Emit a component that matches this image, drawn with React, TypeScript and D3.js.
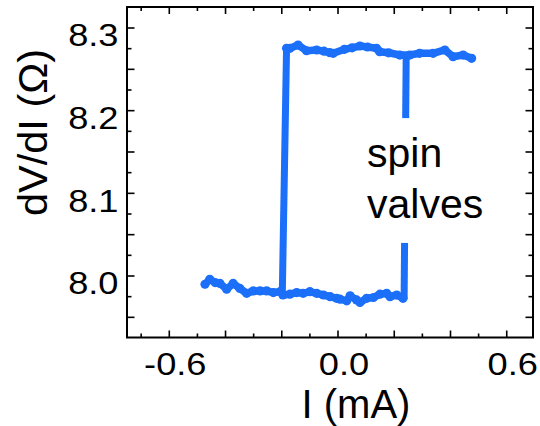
import React from "react";
import * as d3 from "d3";

// Lower branch (low-resistance state), current in mA, dV/dI in ohm
const lowerI = [-0.473, -0.456, -0.437, -0.42, -0.396, -0.373, -0.349, -0.325, -0.301, -0.277, -0.254, -0.23, -0.206, -0.196, -0.171, -0.147, -0.124, -0.1, -0.076, -0.052, -0.028, -0.005, 0.007, 0.031, 0.043, 0.066, 0.078, 0.102, 0.126, 0.149, 0.173, 0.185, 0.209, 0.231];
const lowerR = [7.99, 7.996, 7.992, 7.991, 7.984, 7.991, 7.985, 7.979, 7.982, 7.982, 7.982, 7.98, 7.981, 7.977, 7.978, 7.98, 7.979, 7.981, 7.979, 7.977, 7.975, 7.973, 7.972, 7.97, 7.976, 7.971, 7.968, 7.973, 7.974, 7.978, 7.979, 7.975, 7.977, 7.973];

// Upper branch (high-resistance state)
const upperI = [-0.183, -0.171, -0.142, -0.112, -0.076, -0.05, -0.029, -0.017, 0.023, 0.05, 0.078, 0.105, 0.137, 0.148, 0.18, 0.22, 0.255, 0.29, 0.338, 0.38, 0.409, 0.445, 0.475];
const upperR = [8.2755, 8.2754, 8.2794, 8.2725, 8.2734, 8.272, 8.2701, 8.2694, 8.2742, 8.276, 8.2782, 8.277, 8.2754, 8.2713, 8.27, 8.2673, 8.2673, 8.2694, 8.2694, 8.2734, 8.2653, 8.2673, 8.2633];

// Switching events
const switchDownI = [-0.183, -0.198];
const switchDownR = [8.2755, 7.981];
const switchUpI = [0.235, 0.2425];
const switchUpR = [7.972, 8.267];

// Axes
const xDomain = [-0.7504, 0.6934];
const yDomain = [7.9256, 8.3254];
const xTickSteps = [-7, -6, -5, -4, -3, -2, -1, 0, 1, 2, 3, 4, 5, 6]; // x0.1 mA
const xTickLabels = ["-0.6", "0.0", "0.6"];
const yTickSteps = [318, 319, 320, 321, 322, 323, 324, 325, 326, 327, 328, 329, 330, 331, 332]; // x0.025 ohm
const yTickLabels = ["8.0", "8.1", "8.2", "8.3"];

const xTitle = "I (mA)";
const yTitle = "dV/dI (Ω)";
const annotationLines = ["spin", "valves"];
const annotationI = 0.103;
const annotationBoxR = [8.191, 8.04];
const annotationBaselineR = 8.1315;

const W = 540;
const H = 426;
const left = 127;
const right = 533;
const top = 7;
const bottom = 337.5;
const BLUE = "#1b6ff8";
const FONT = "'Liberation Sans', Arial, Helvetica, sans-serif";

export default function App() {
  const x = d3.scaleLinear().domain(xDomain).range([left, right]);
  const y = d3.scaleLinear().domain(yDomain).range([bottom, top]);

  const line = d3
    .line<[number, number]>()
    .x((d) => x(d[0]))
    .y((d) => y(d[1]));

  const lower: [number, number][] = lowerI.map((v, i) => [v, lowerR[i]]);
  const upper: [number, number][] = upperI.map((v, i) => [v, upperR[i]]);
  const sDown: [number, number][] = switchDownI.map((v, i) => [v, switchDownR[i]]);
  const sUp: [number, number][] = switchUpI.map((v, i) => [v, switchUpR[i]]);

  const xTicks = xTickSteps.map((k) => ({ v: k / 10, major: k % 2 === 0, label: k % 6 === 0 }));
  const yTicks = yTickSteps.map((k) => ({ v: k * 0.025, major: k % 2 === 0, label: k % 4 === 0 }));

  const tickStroke = 1.6;

  const ax = x(annotationI);
  const lineGap = 51;

  return (
    <div style={{ position: "fixed", left: 0, top: 0 }}>
      <svg width={W} height={H} style={{ display: "block", background: "#fff" }}>
        {/* data */}
        <g fill="none" stroke={BLUE} strokeLinecap="round" strokeLinejoin="round">
          <path d={line(sDown) || ""} strokeWidth={7} strokeLinecap="butt" />
          <path d={line(sUp) || ""} strokeWidth={7} strokeLinecap="butt" />
          <path d={line(lower) || ""} strokeWidth={7.5} />
          <path d={line(upper) || ""} strokeWidth={7.5} />
        </g>
        <g fill={BLUE}>
          {lower.map((d, i) => (
            <circle key={"l" + i} cx={x(d[0])} cy={y(d[1])} r={4.6} />
          ))}
          {upper.map((d, i) => (
            <circle key={"u" + i} cx={x(d[0])} cy={y(d[1])} r={4.6} />
          ))}
        </g>

        {/* annotation */}
        <rect
          x={ax - 6}
          y={y(annotationBoxR[0])}
          width={130}
          height={y(annotationBoxR[1]) - y(annotationBoxR[0])}
          fill="#fff"
        />
        <text fontFamily={FONT} fontSize={41} fill="#000">
          {annotationLines.map((t, i) => (
            <tspan key={t} x={ax} y={y(annotationBaselineR) + i * lineGap}>
              {t}
            </tspan>
          ))}
        </text>

        {/* frame */}
        <rect x={left} y={top} width={right - left} height={bottom - top} fill="none" stroke="#000" strokeWidth={2} />

        {/* ticks (inward on all four sides) */}
        <g stroke="#000" strokeWidth={tickStroke}>
          {xTicks.map((t, i) => {
            const len = t.major ? 7 : 4;
            const px = x(t.v);
            return (
              <g key={"xt" + i}>
                <line x1={px} x2={px} y1={bottom} y2={bottom - len} />
                <line x1={px} x2={px} y1={top} y2={top + len} />
              </g>
            );
          })}
          {yTicks.map((t, i) => {
            const len = t.major ? 7.5 : 4.5;
            const py = y(t.v);
            return (
              <g key={"yt" + i}>
                <line x1={left} x2={left + len} y1={py} y2={py} />
                <line x1={right} x2={right - len} y1={py} y2={py} />
              </g>
            );
          })}
        </g>

        {/* tick labels */}
        <g fontFamily={FONT} fontSize={31.5} fill="#000">
          {xTicks
            .filter((t) => t.label)
            .map((t, i) => (
              <text
                key={"xl" + i}
                textAnchor="middle"
                transform={`translate(${x(t.v) + 6},374.5) scale(1.15,1)`}
              >
                {xTickLabels[i]}
              </text>
            ))}
          {yTicks
            .filter((t) => t.label)
            .map((t, i) => (
              <text
                key={"yl" + i}
                textAnchor="end"
                transform={`translate(118.5,${y(t.v) + 18.3}) scale(1.15,1)`}
              >
                {yTickLabels[i]}
              </text>
            ))}
        </g>

        {/* axis titles */}
        <text x={356} y={417.5} textAnchor="middle" fontFamily={FONT} fontSize={40} fill="#000">
          {xTitle}
        </text>
        <text
          transform={`translate(47,132.5) rotate(-90)`}
          textAnchor="middle"
          fontFamily={FONT}
          fontSize={41.5}
          fill="#000"
        >
          {yTitle}
        </text>
      </svg>
    </div>
  );
}
